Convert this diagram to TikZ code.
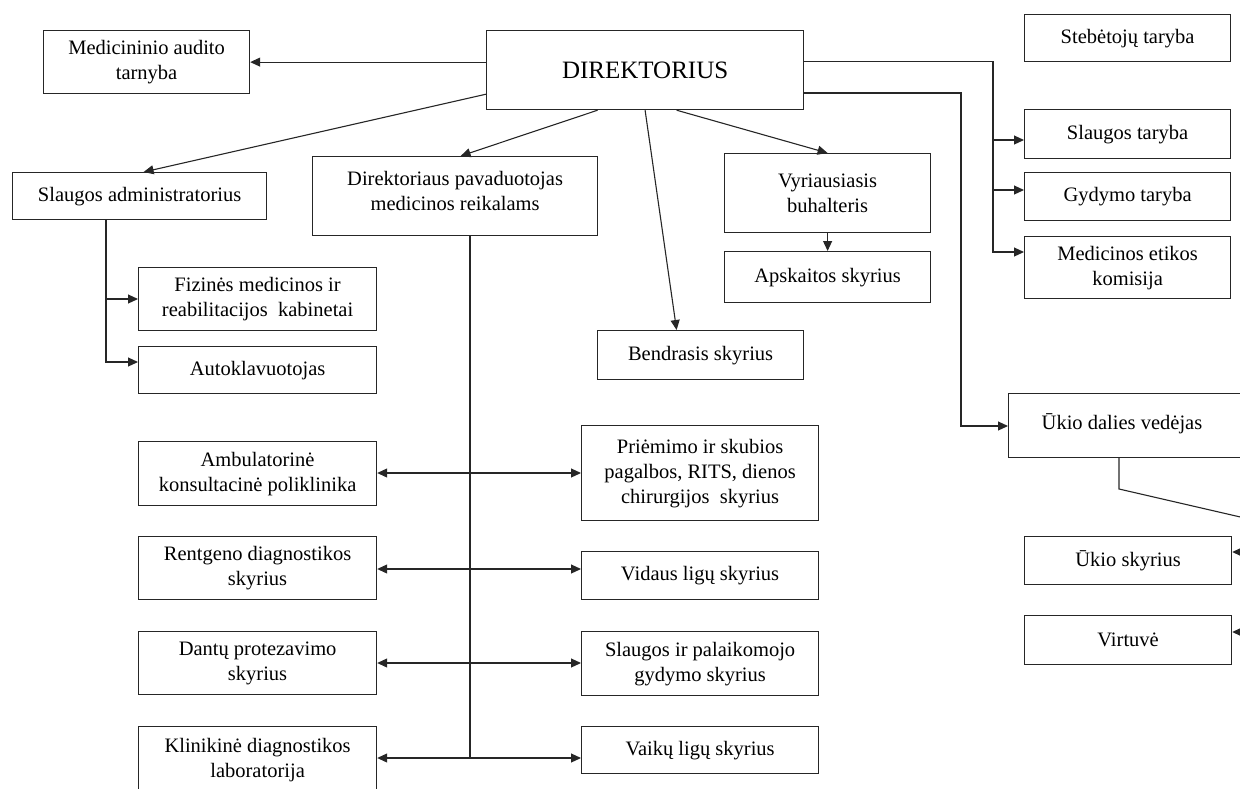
\documentclass[tikz,border=0pt]{standalone}
\usepackage{fontspec}
\setmainfont{Liberation Serif}
\usetikzlibrary{arrows.meta}
\begin{document}
\begin{tikzpicture}[x=1pt,y=-1pt,
  txtfont/.style={font=\fontsize{20.5}{25}\selectfont},
  box/.style={draw=black!85, line width=1.2pt, inner sep=0pt, align=center, anchor=north west, txtfont},
  conn/.style={line width=1.1pt, draw=black!85},
  arr/.style={conn, -{Triangle[length=10pt,width=9pt]}},
  darr/.style={conn, {Triangle[length=10pt,width=9pt]}-{Triangle[length=10pt,width=9pt]}}]
\useasboundingbox (0,0) rectangle (1240,788);
\clip (0,0) rectangle (1240,788);
% boxes
\node[box, minimum width=206pt, minimum height=63pt] (mat) at (43,30) {Medicininio audito\\tarnyba};
\node[box, minimum width=317pt, minimum height=79pt, font=\fontsize{25}{30}\selectfont] (dir) at (486,30) {DIREKTORIUS};
\node[box, minimum width=206pt, minimum height=47pt] (steb) at (1024,14) {Stebėtojų taryba};
\node[box, minimum width=206pt, minimum height=49pt] (slt) at (1024,109) {Slaugos taryba};
\node[box, minimum width=206pt, minimum height=48pt] (gyd) at (1024,172) {Gydymo taryba};
\node[box, minimum width=206pt, minimum height=62pt] (met) at (1024,236) {Medicinos etikos\\komisija};
\node[box, minimum width=254pt, minimum height=47pt] (sla) at (12,172) {Slaugos administratorius};
\node[box, minimum width=285pt, minimum height=79pt] (dpv) at (312,156) {Direktoriaus pavaduotojas\\medicinos reikalams\\[-15pt]};
\node[box, minimum width=206pt, minimum height=79pt] (vyr) at (724,153) {Vyriausiasis\\buhalteris};
\node[box, minimum width=206pt, minimum height=51pt] (aps) at (724,251) {Apskaitos skyrius};
\node[box, minimum width=206pt, minimum height=49pt] (ben) at (597,330) {Bendrasis skyrius};
\node[box, minimum width=238pt, minimum height=63pt] (fiz) at (138,267) {Fizinės medicinos ir\\reabilitacijos\ \ kabinetai};
\node[box, minimum width=238pt, minimum height=47pt] (aut) at (138,346) {Autoklavuotojas};
\node[box, minimum width=238pt, minimum height=64pt] (amb) at (138,441) {Ambulatorinė\\konsultacinė poliklinika};
\node[box, minimum width=238pt, minimum height=63pt] (ren) at (138,536) {Rentgeno diagnostikos\\skyrius};
\node[box, minimum width=238pt, minimum height=63pt] (dan) at (138,631) {Dantų protezavimo\\skyrius};
\node[box, minimum width=238pt, minimum height=66pt] (kli) at (138,726) {Klinikinė diagnostikos\\laboratorija};
\node[box, minimum width=237pt, minimum height=95pt] (pri) at (581,425) {Priėmimo ir skubios\\pagalbos, RITS, dienos\\chirurgijos\ \ skyrius};
\node[box, minimum width=237pt, minimum height=48pt] (vid) at (581,551) {Vidaus ligų skyrius};
\node[box, minimum width=237pt, minimum height=64pt] (slp) at (581,631) {Slaugos ir palaikomojo\\gydymo skyrius};
\node[box, minimum width=237pt, minimum height=47pt] (vai) at (581,726) {Vaikų ligų skyrius};
\node[box, minimum width=280pt, minimum height=64pt] (ukv) at (1008,393) {};
\node[txtfont, inner sep=0pt] (ukvt) at (1122,424) {Ūkio dalies vedėjas};
\node[box, minimum width=207pt, minimum height=48pt] (uks) at (1024,536) {Ūkio skyrius};
\node[box, minimum width=207pt, minimum height=49pt] (vir) at (1024,615) {Virtuvė};
% coordinates
\coordinate (rb0) at (993,61.5);
\coordinate (rb1) at (993,140);
\coordinate (rb2) at (993,190);
\coordinate (rb3) at (993,252);
\coordinate (ub0) at (961,93);
\coordinate (ub1) at (961,426);
\coordinate (uk1) at (1119,489);
\coordinate (uk2) at (1262,522);
\coordinate (uk3) at (1262,552);
\coordinate (uk4) at (1262,632);
\coordinate (lb0) at (106,219);
\coordinate (lb1) at (106,299);
\coordinate (lb2) at (106,362);
\coordinate (mb1) at (470,473);
\coordinate (mb2) at (470,569);
\coordinate (mb3) at (470,663);
\coordinate (mb4) at (470,758);
% connectors from director
\draw[arr] (dir.west |- mat.east) -- (mat.east);
\draw[arr] ([yshift=16pt]dir.south west) -- ([xshift=4pt]sla.north);
\draw[arr] ([xshift=-47.5pt]dir.south) -- ([xshift=5.5pt]dpv.north);
\draw[arr] (dir.south) -- ([xshift=-24pt]ben.north);
\draw[arr] ([xshift=31.5pt]dir.south) -- (vyr.north);
\draw[arr] (vyr.south) -- (aps.north);
\draw[arr] (dir.east |- rb0) -- (rb0) -- (rb3) -- (rb3 -| met.west);
\draw[arr] (rb1) -- (rb1 -| slt.west);
\draw[arr] (rb2) -- (rb2 -| gyd.west);
\draw[arr] (dir.east |- ub0) -- (ub0) -- (ub1) -- (ub1 -| ukv.west);
\draw[conn] (ukv.south -| uk1) -- (uk1) -- (uk2) -- (uk4);
\draw[arr] (uk3) -- (uk3 -| uks.east);
\draw[arr] (uk4) -- (uk4 -| vir.east);
% left bus
\draw[conn] (lb0) -- (lb1);
\draw[arr] (lb1) -- (lb1 -| fiz.west);
\draw[arr] (lb1) -- (lb2) -- (lb2 -| aut.west);
% middle bus
\draw[conn] (dpv.south -| mb4) -- (mb4);
\draw[darr] (mb1 -| amb.east) -- (mb1 -| pri.west);
\draw[darr] (mb2 -| ren.east) -- (mb2 -| vid.west);
\draw[darr] (mb3 -| dan.east) -- (mb3 -| slp.west);
\draw[darr] (mb4 -| kli.east) -- (mb4 -| vai.west);
\end{tikzpicture}
\end{document}
